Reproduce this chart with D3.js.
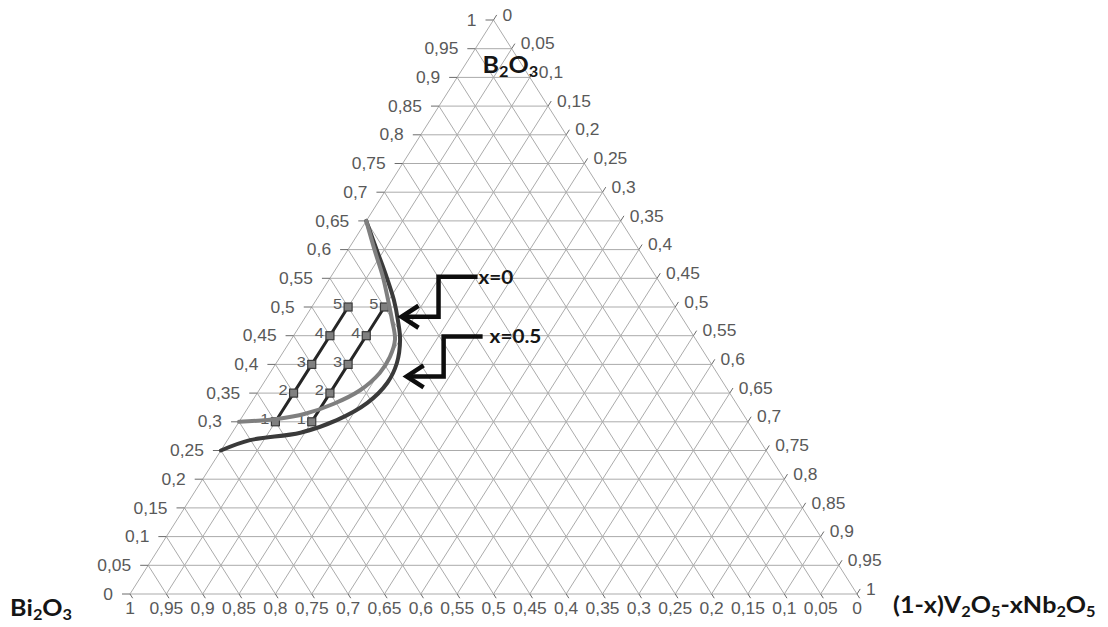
<!DOCTYPE html>
<html>
<head>
<meta charset="utf-8">
<script src="https://cdn.jsdelivr.net/npm/d3@7"></script>
<style>
  body { margin: 0; background: #fff; }
  svg { display: block; }
  .tick-label { font-family: 'Liberation Sans', Arial, sans-serif; font-size: 16px; fill: #595959; }
  .point-label { font-family: 'Liberation Sans', Arial, sans-serif; font-size: 15px; fill: #595959; }
  .title { font-family: Lato, 'Open Sans', sans-serif; font-weight: bold; font-size: 23px; fill: #151515; }
  .note { font-family: Lato, 'Open Sans', sans-serif; font-weight: bold; font-size: 19px; fill: #151515; }
</style>
</head>
<body>
<svg id="chart" width="1108" height="627"></svg>
<script>
// tick values shared by the three sides, labels use a decimal comma
const tickValues = [0, 0.05, 0.1, 0.15, 0.2, 0.25, 0.3, 0.35, 0.4, 0.45, 0.5,
  0.55, 0.6, 0.65, 0.7, 0.75, 0.8, 0.85, 0.9, 0.95, 1]

// corner names
const titleTop = 'B2O3'
const titleLeft = 'Bi2O3'
const titleRight = '(1-x)V2O5-xNb2O5'

// measured compositions: b = B2O3 fraction, c = (1-x)V2O5-xNb2O5 fraction
const pointIds = ['1', '2', '3', '4', '5']
const pointsB = [0.30, 0.35, 0.40, 0.45, 0.50]
const pointsC1 = [0.05, 0.05, 0.05, 0.05, 0.05]
const pointsC2 = [0.10, 0.10, 0.10, 0.10, 0.10]

// glass forming boundaries
const boundaryX0B = [0.30, 0.305, 0.314, 0.331, 0.355, 0.385, 0.413, 0.443, 0.477, 0.512, 0.552, 0.599, 0.65]
const boundaryX0C = [0.000, 0.050, 0.084, 0.114, 0.139, 0.151, 0.151, 0.143, 0.122, 0.099, 0.072, 0.037, 0.000]
const boundaryX05B = [0.25, 0.268, 0.281, 0.303, 0.333, 0.368, 0.402, 0.443, 0.477, 0.512, 0.552, 0.599, 0.65]
const boundaryX05C = [0.000, 0.031, 0.094, 0.133, 0.160, 0.170, 0.166, 0.150, 0.130, 0.107, 0.077, 0.040, 0.000]

// arrow notes, tips given as compositions
const noteLabels = ['x=0', 'x=0.5']
const noteTipB = [0.483, 0.379]
const noteTipC = [0.132, 0.191]

const svg = d3.select('#chart')
const stretch = 1.09 // picture is a little wider than tall

// ternary -> cartesian through two linear scales
const x = d3.scaleLinear().domain([0, 1]).range([130, 857])
const y = d3.scaleLinear().domain([0, 1]).range([594, 20])
const P = (b, c) => [x(c + b / 2), y(b)]

const fmt = d3.formatLocale({ decimal: ',', thousands: '.', grouping: [3], currency: ['', ''] }).format('~g')

// grid
const grid = svg.append('g').attr('stroke', '#ababab').attr('stroke-width', 1).attr('fill', 'none')
tickValues.forEach(v => {
  const segs = [
    [P(v, 0), P(v, 1 - v)], // constant B2O3
    [P(0, v), P(1 - v, v)], // constant right component
    [P(0, 1 - v), P(1 - v, 0)] // constant Bi2O3
  ]
  segs.forEach(s => grid.append('line')
    .attr('x1', s[0][0]).attr('y1', s[0][1])
    .attr('x2', s[1][0]).attr('y2', s[1][1]))
})

// ticks and labels
const ticks = svg.append('g').attr('stroke', '#6b6b6b').attr('stroke-width', 1)
const labels = svg.append('g')

function unit(a, b) {
  const dx = b[0] - a[0], dy = b[1] - a[1]
  const l = Math.hypot(dx, dy)
  return [dx / l, dy / l]
}
// tick directions follow the grid lines that end on each side
const ur = unit(P(0, 0), P(1, 0))
const ub = unit(P(1, 0), P(0, 1))

function addLabel(px, py, anchor, txt) {
  labels.append('text')
    .attr('class', 'tick-label')
    .attr('transform', 'translate(' + px + ',' + py + ') scale(' + stretch + ',1)')
    .attr('text-anchor', anchor)
    .attr('dy', '0.35em')
    .text(txt)
}

tickValues.forEach(v => {
  // left side: B2O3
  const l = P(v, 0)
  ticks.append('line').attr('x1', l[0] - 8).attr('y1', l[1]).attr('x2', l[0]).attr('y2', l[1])
  addLabel(l[0] - 17, l[1], 'end', fmt(v))

  // right side: (1-x)V2O5-xNb2O5
  const r = P(1 - v, v)
  ticks.append('line').attr('x1', r[0]).attr('y1', r[1]).attr('x2', r[0] + ur[0] * 6).attr('y2', r[1] + ur[1] * 6)
  addLabel(r[0] + 9, r[1] - 5, 'start', fmt(v))

  // bottom: Bi2O3
  const bt = P(0, 1 - v)
  ticks.append('line').attr('x1', bt[0]).attr('y1', bt[1]).attr('x2', bt[0] + ub[0] * 5).attr('y2', bt[1] + ub[1] * 5)
  addLabel(bt[0], bt[1] + 14, 'middle', fmt(v))
})

// sample series
const line = d3.line().x(d => P(d.b, d.c)[0]).y(d => P(d.b, d.c)[1])
const seriesList = [pointsC1, pointsC2].map(cs => pointIds.map((id, i) => ({ id, b: pointsB[i], c: cs[i] })))

seriesList.forEach(data => {
  svg.append('path')
    .datum(data)
    .attr('fill', 'none')
    .attr('stroke', '#262626')
    .attr('stroke-width', 3)
    .attr('d', line)

  svg.append('g').selectAll('rect')
    .data(data)
    .join('rect')
    .attr('x', d => P(d.b, d.c)[0] - 4)
    .attr('y', d => P(d.b, d.c)[1] - 4)
    .attr('width', 8)
    .attr('height', 8)
    .attr('fill', '#808080')
    .attr('stroke', '#3a3a3a')
    .attr('stroke-width', 1.2)

  svg.append('g').selectAll('text')
    .data(data)
    .join('text')
    .attr('class', 'point-label')
    .attr('transform', d => 'translate(' + (P(d.b, d.c)[0] - 6) + ',' + (P(d.b, d.c)[1] - 3) + ') scale(' + stretch + ',1)')
    .attr('text-anchor', 'end')
    .attr('dy', '0.35em')
    .text(d => d.id)
})

// boundaries
const curve = d3.line()
  .x(d => P(d.b, d.c)[0])
  .y(d => P(d.b, d.c)[1])
  .curve(d3.curveCatmullRom.alpha(0.5))

const bX05 = boundaryX05B.map((b, i) => ({ b, c: boundaryX05C[i] }))
const bX0 = boundaryX0B.map((b, i) => ({ b, c: boundaryX0C[i] }))

svg.append('path').datum(bX05)
  .attr('fill', 'none').attr('stroke', '#3a3a3a').attr('stroke-width', 4)
  .attr('stroke-linecap', 'round')
  .attr('d', curve)
svg.append('path').datum(bX0)
  .attr('fill', 'none').attr('stroke', '#7f7f7f').attr('stroke-width', 4)
  .attr('stroke-linecap', 'round')
  .attr('d', curve)

// arrow notes
noteLabels.forEach((lab, i) => {
  const t = P(noteTipB[i], noteTipC[i])
  const g = svg.append('g').attr('fill', 'none').attr('stroke', '#0d0d0d').attr('stroke-width', 4.5)
  g.append('path')
    .attr('stroke-linejoin', 'miter')
    .attr('d', 'M' + (t[0] + 2) + ',' + t[1] + 'H' + (t[0] + 37) + 'V' + (t[1] - 40) + 'H' + (t[0] + 76))
  g.append('path')
    .attr('stroke-linejoin', 'miter')
    .attr('d', 'M' + (t[0] + 17) + ',' + (t[1] - 11) + 'L' + t[0] + ',' + t[1] + 'L' + (t[0] + 17) + ',' + (t[1] + 11))
  svg.append('text')
    .attr('class', 'note')
    .attr('transform', 'translate(' + (t[0] + 77 + i * 6) + ',' + (t[1] - 40) + ') scale(' + stretch + ',1)')
    .attr('dy', '0.36em')
    .text(lab)
})

// corner titles, digits after a letter become subscripts
function addTitle(txt, px, py) {
  const t = svg.append('text')
    .attr('class', 'title')
    .attr('transform', 'translate(' + px + ',' + py + ') scale(' + stretch + ',1)')
  let sub = false
  txt.split('').forEach((ch, i) => {
    const isSub = /\d/.test(ch) && i > 0 && /[A-Za-z]/.test(txt[i - 1])
    const ts = t.append('tspan').text(ch)
    if (isSub && !sub) ts.attr('dy', 4)
    if (!isSub && sub) ts.attr('dy', -4)
    if (isSub) ts.attr('font-size', '15px')
    sub = isSub
  })
}

const cornerTop = P(1, 0), cornerLeft = P(0, 0), cornerRight = P(0, 1)
addTitle(titleTop, cornerTop[0] - 11, cornerTop[1] + 53)
addTitle(titleLeft, cornerLeft[0] - 120, cornerLeft[1] + 22)
addTitle(titleRight, cornerRight[0] + 36, cornerRight[1] + 19)
</script>
</body>
</html>
